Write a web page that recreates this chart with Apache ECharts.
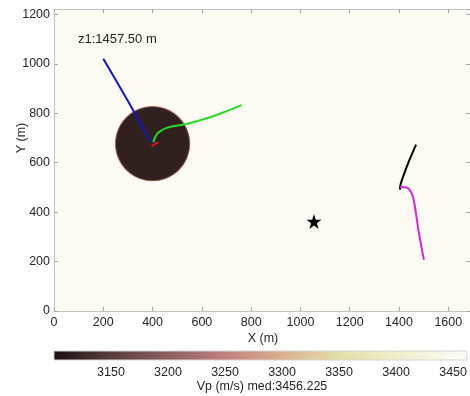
<!DOCTYPE html>
<html>
<head>
<meta charset="utf-8">
<script src="https://cdn.jsdelivr.net/npm/echarts@6/dist/echarts.min.js"></script>
<style>html,body{margin:0;padding:0;background:#fff;}#c{width:470px;height:396px;}</style>
</head>
<body>
<div id="c"></div>
<script>
// ---- data ----
const xRange = [0, 1688];
const yRange = [0, 1222];
const tickStep = 200;
const vpRange = [3100, 3462];
const vpStep = 50;
const vpMedian = 3456.225;
const depthLabel = 'z1:1457.50 m';
// colormap stops [Vp, colour]
const cmapValues = [3100, 3150, 3200, 3250, 3300, 3350, 3400, 3462];
const cmapColors = ['#1a0f0f', '#5a3d3d', '#8c5f5f', '#c27f7f', '#d9b08e', '#e4dea8', '#efefcc', '#fcfcf8'];
// low-velocity body
const bodyCenter = [400, 677];
const bodyRadius = 150;
const bodyVp = 3118;
// trajectories
const blueLine = [[200, 1021], [300, 850], [392, 684]];
const redLine = [[396, 667], [423, 683]];
const greenLine = [[403, 683], [412, 706], [423, 721], [457, 741], [538, 757], [633, 784], [701, 809], [761, 833]];
const blackLine = [[1469, 673], [1440, 605], [1417, 545], [1406, 511], [1404, 491]];
const magentaLine = [[1404, 502], [1431, 500], [1451, 477], [1462, 437], [1480, 320], [1501, 207]];
const starPoint = [[1055, 362]];

function hex2rgb(h){return [parseInt(h.slice(1,3),16),parseInt(h.slice(3,5),16),parseInt(h.slice(5,7),16)];}
function vpColor(v){
  for(let i=0;i<cmapValues.length-1;i++){
    if(v<=cmapValues[i+1]){
      const t=Math.max(0,(v-cmapValues[i])/(cmapValues[i+1]-cmapValues[i]));
      const a=hex2rgb(cmapColors[i]),b=hex2rgb(cmapColors[i+1]);
      return 'rgb('+a.map((c,k)=>Math.round(c+(b[k]-c)*t)).join(',')+')';
    }
  }
  return cmapColors[cmapColors.length-1];
}

const txt = '#262626';
const font = 'Liberation Sans, Arial, sans-serif';
const plain = v => String(v);
function axLine(){ return {show:true, onZero:false, lineStyle:{color:'#c4c4c4', width:1}}; }
function axTick(len){ return {show:true, inside:true, length:len||4, lineStyle:{color:'#a8a8a8', width:1}}; }
const bodyCol = vpColor(bodyVp);
const star = 'path://M50,0 L61.2,34.5 L97.6,34.5 L68.2,55.9 L79.4,90.5 L50,69.1 L20.6,90.5 L31.8,55.9 L2.4,34.5 L38.8,34.5 Z';

const chart = echarts.init(document.getElementById('c'), null, {renderer:'canvas'});
chart.setOption({
  animation:false,
  backgroundColor:'#ffffff',
  textStyle:{fontFamily:font},
  title:{text:depthLabel, left:78, top:33, padding:0,
    textStyle:{fontSize:13, fontWeight:'normal', color:txt, fontFamily:font}},
  grid:[
    {left:54, top:9, width:416, height:302, show:true, backgroundColor:vpColor(vpMedian), borderWidth:0},
    {left:54, top:351, width:416, height:9, show:false}
  ],
  xAxis:[
    {gridIndex:0, type:'value', min:xRange[0], max:xRange[1], interval:tickStep, position:'bottom',
      axisLine:axLine(), axisTick:axTick(), splitLine:{show:false},
      axisLabel:{color:txt, fontSize:12.5, margin:5, showMaxLabel:false, fontFamily:font, formatter:plain}},
    {gridIndex:0, type:'value', min:xRange[0], max:xRange[1], interval:tickStep, position:'top',
      axisLine:axLine(), axisTick:axTick(), splitLine:{show:false}, axisLabel:{show:false}},
    {gridIndex:1, type:'value', min:vpRange[0], max:vpRange[1], interval:vpStep, position:'bottom',
      axisLine:{show:false, onZero:false}, axisTick:axTick(3), splitLine:{show:false},
      axisLabel:{color:txt, fontSize:12.5, margin:6, showMinLabel:false, showMaxLabel:false, fontFamily:font, formatter:plain}}
  ],
  yAxis:[
    {gridIndex:0, type:'value', min:yRange[0], max:yRange[1], interval:tickStep, position:'left',
      axisLine:axLine(), axisTick:axTick(), splitLine:{show:false},
      axisLabel:{color:txt, fontSize:12.5, margin:4, showMaxLabel:false, fontFamily:font, formatter:plain}},
    {gridIndex:0, type:'value', min:yRange[0], max:yRange[1], interval:tickStep, position:'right',
      axisLine:axLine(), axisTick:axTick(), splitLine:{show:false}, axisLabel:{show:false}},
    {gridIndex:1, type:'value', min:0, max:1, show:false}
  ],
  graphic:[
    {type:'text', x:263, y:339, style:{text:'X (m)', font:'12.5px '+font, fill:txt, textAlign:'center', textVerticalAlign:'middle'}},
    {type:'text', x:22, y:138, rotation:Math.PI/2, style:{text:'Y (m)', font:'12.5px '+font, fill:txt, textAlign:'center', textVerticalAlign:'middle'}},
    {type:'text', x:262, y:387, style:{text:'Vp (m/s) med:'+vpMedian, font:'12.5px '+font, fill:txt, textAlign:'center', textVerticalAlign:'middle'}}
  ],
  series:[
    {type:'custom', xAxisIndex:0, yAxisIndex:0, data:[[bodyCenter[0], bodyCenter[1], bodyRadius]], z:1, silent:true,
      renderItem:function(params, api){
        const c = api.coord([api.value(0), api.value(1)]);
        const r = api.size([api.value(2), 0])[0];
        return {type:'circle', shape:{cx:c[0], cy:c[1], r:r+1},
          style:{fill:new echarts.graphic.RadialGradient(0.5,0.5,0.5,[
            {offset:0, color:bodyCol},{offset:0.95, color:bodyCol},
            {offset:0.985, color:'#b07a70'},{offset:1, color:'rgba(240,205,185,0.6)'}])}};
      }},
    {type:'line', data:blueLine, showSymbol:false, smooth:0.2, lineStyle:{color:'#1414c4', width:2}, z:3},
    {type:'line', data:greenLine, showSymbol:false, smooth:0.4, lineStyle:{color:'#22dd22', width:2}, z:3},
    {type:'line', data:redLine, showSymbol:false, lineStyle:{color:'#dd1111', width:2}, z:4},
    {type:'line', data:blackLine, showSymbol:false, smooth:0.3, lineStyle:{color:'#000000', width:2}, z:3},
    {type:'line', data:magentaLine, showSymbol:false, smooth:0.4, lineStyle:{color:'#dd22dd', width:2}, z:3},
    {type:'scatter', data:starPoint, symbol:star, symbolSize:15, itemStyle:{color:'#000', opacity:1}, z:5},
    {type:'custom', xAxisIndex:2, yAxisIndex:2, data:[[vpRange[0], vpRange[1]]], z:1, silent:true,
      renderItem:function(params, api){
        const a = api.coord([api.value(0), 0]);
        const b = api.coord([api.value(1), 1]);
        const stops = cmapValues.map((v,i)=>({offset:(v-vpRange[0])/(vpRange[1]-vpRange[0]), color:cmapColors[i]}));
        return {type:'rect', shape:{x:a[0], y:b[1], width:b[0]-a[0], height:a[1]-b[1]},
          style:{fill:new echarts.graphic.LinearGradient(0,0,1,0,stops), stroke:'#d4d4d4', lineWidth:1}};
      }}
  ]
});
</script>
</body>
</html>
